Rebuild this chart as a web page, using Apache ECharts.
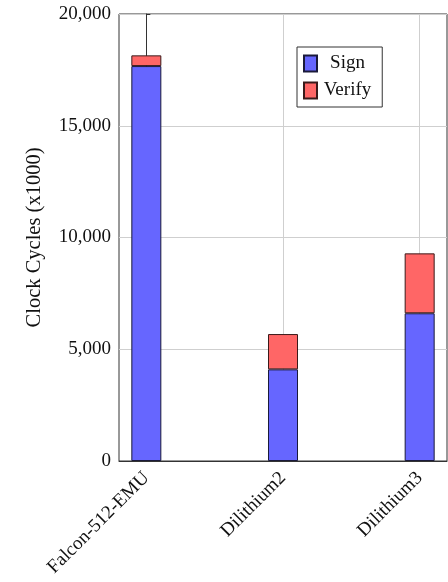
<!DOCTYPE html>
<html>
<head>
<meta charset="utf-8">
<script src="https://cdn.jsdelivr.net/npm/echarts@6/dist/echarts.min.js"></script>
<style>html,body{margin:0;padding:0;background:#fff}#c{width:448px;height:582px}</style>
</head>
<body>
<div id="c"></div>
<script>
var categories = ['Falcon-512-EMU', 'Dilithium2', 'Dilithium3'];
var signValues = [17670, 4100, 6610];
var verifyValues = [480, 1580, 2680];
var yTicks = [0, 5000, 10000, 15000, 20000];

var FONT = 'Liberation Serif';
var chart = echarts.init(document.getElementById('c'));
var idx = categories.map(function (_, i) { return i; });
// value first, category index second (value dim first so stacking works on it)
function pairs(vals) { return vals.map(function (v, i) { return [v, i]; }); }

chart.setOption({
  animation: false,
  textStyle: { fontFamily: FONT },
  grid: { left: 119, right: 1, top: 14, bottom: 121, show: true, borderColor: '#333', borderWidth: 1 },
  legend: {
    orient: 'vertical', left: 297, top: 47,
    data: ['Sign', 'Verify'],
    itemWidth: 13, itemHeight: 16, itemGap: 8, itemTextGap: 4,
    padding: [7, 11, 7, 6],
    borderColor: '#333', borderWidth: 1, backgroundColor: '#fff',
    formatter: function (n) { return '{t|' + n + '}'; },
    textStyle: {
      fontFamily: FONT, fontSize: 19, color: '#111',
      rich: { t: { fontFamily: FONT, fontSize: 19, color: '#111', width: 51, align: 'center' } }
    },
    icon: 'rect'
  },
  xAxis: {
    type: 'value', min: -0.2, max: 2.2,
    axisLine: { show: true, lineStyle: { color: '#333' } },
    axisTick: { show: true, inside: true, length: 4, customValues: idx, lineStyle: { color: '#333' } },
    splitLine: { show: true, lineStyle: { color: '#cfcfcf' } },
    axisLabel: {
      customValues: idx, rotate: 45, fontFamily: FONT, fontSize: 19, color: '#111', margin: 14,
      formatter: function (v) { return categories[Math.round(v)] || ''; }
    }
  },
  yAxis: {
    type: 'value', min: yTicks[0], max: yTicks[yTicks.length - 1], interval: 5000,
    name: 'Clock Cycles (x1000)', nameLocation: 'middle', nameGap: 74,
    nameTextStyle: { fontFamily: FONT, fontSize: 20.5, color: '#111' },
    axisLine: { show: true, lineStyle: { color: '#333' } },
    axisTick: { show: true, inside: true, length: 4, lineStyle: { color: '#333' } },
    splitLine: { show: true, lineStyle: { color: '#cfcfcf' } },
    axisLabel: {
      fontFamily: FONT, fontSize: 19, color: '#111', margin: 8,
      formatter: function (v) { return v.toLocaleString('en-US'); }
    }
  },
  series: [
    {
      name: 'Sign', type: 'bar', stack: 'total', barWidth: 30,
      encode: { x: 1, y: 0 },
      itemStyle: { color: '#6666ff', borderColor: '#1a1a3a', borderWidth: 1 },
      data: pairs(signValues)
    },
    {
      name: 'Verify', type: 'bar', stack: 'total', barWidth: 30,
      encode: { x: 1, y: 0 },
      itemStyle: { color: '#ff6666', borderColor: '#3a1a1a', borderWidth: 1 },
      data: pairs(verifyValues)
    }
  ]
});
</script>
</body>
</html>
